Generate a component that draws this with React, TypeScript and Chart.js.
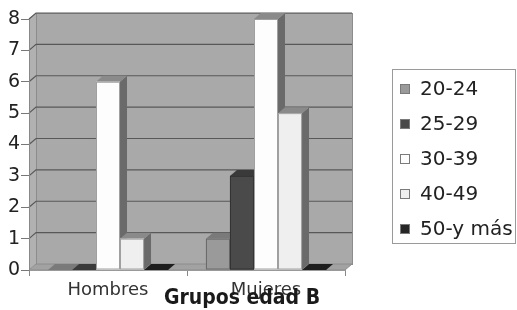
import { useEffect, useRef } from "react";
import { Chart, registerables } from "chart.js";

Chart.register(...registerables);

// ---- data ----
const categories = ["Hombres", "Mujeres"];
const seriesLabels = ["20-24", "25-29", "30-39", "40-49", "50-y más"];
const values2024 = [0, 1];
const values2529 = [0, 3];
const values3039 = [6, 8];
const values4049 = [1, 5];
const values50 = [0, 0];
const yMin = 0;
const yMax = 8;
const yStep = 1;
const titleText = "Grupos edad B";

// ---- styles ----
const frontColors = ["#9a9a9a", "#4a4a4a", "#fdfdfd", "#efefef", "#262626"];
const topColors = ["#7a7a7a", "#3a3a3a", "#8a8a8a", "#8a8a8a", "#1e1e1e"];
const sideColors = ["#6c6c6c", "#303030", "#6a6a6a", "#6a6a6a", "#181818"];
const edgeColors = ["#6a6a6a", "#333333", "#a0a0a0", "#a0a0a0", "#1a1a1a"];
const DX = 7;
const DY = -6;
const FONT = '"DejaVu Sans", sans-serif';

const wallPlugin = {
  id: "wall3d",
  beforeDraw(chart: any) {
    const { ctx, chartArea } = chart;
    const L = chartArea.left, R = chartArea.right, T = chartArea.top, B = chartArea.bottom;
    const ys = chart.scales.y;
    ctx.save();
    // back wall
    ctx.fillStyle = "#a9a9a9";
    ctx.fillRect(L + DX, T + DY, R - L, B - T);
    ctx.strokeStyle = "#8c8c8c";
    ctx.lineWidth = 1;
    ctx.strokeRect(L + DX + 0.5, T + DY + 0.5, R - L, B - T);
    // left side wall
    ctx.fillStyle = "#b1b1b1";
    ctx.beginPath();
    ctx.moveTo(L, T);
    ctx.lineTo(L + DX, T + DY);
    ctx.lineTo(L + DX, B + DY);
    ctx.lineTo(L, B);
    ctx.closePath();
    ctx.fill();
    // floor
    ctx.fillStyle = "#a2a2a2";
    ctx.beginPath();
    ctx.moveTo(L, B);
    ctx.lineTo(L + DX, B + DY);
    ctx.lineTo(R + DX, B + DY);
    ctx.lineTo(R, B);
    ctx.closePath();
    ctx.fill();
    ctx.strokeStyle = "#8c8c8c";
    ctx.stroke();
    // gridlines
    ctx.strokeStyle = "#585858";
    ctx.lineWidth = 1.2;
    for (let v = yMin + yStep; v <= yMax; v += yStep) {
      const y = ys.getPixelForValue(v);
      ctx.beginPath();
      ctx.moveTo(L, y);
      ctx.lineTo(L + DX, y + DY);
      ctx.lineTo(R + DX, y + DY);
      ctx.stroke();
    }
    ctx.restore();
  },
};

const barPlugin = {
  id: "bar3d",
  afterDatasetsDraw(chart: any) {
    const { ctx } = chart;
    ctx.save();
    chart.data.datasets.forEach((ds: any, di: number) => {
      const meta = chart.getDatasetMeta(di);
      meta.data.forEach((el: any) => {
        const { x, y, base, width } = el.getProps(["x", "y", "base", "width"], true);
        const l = x - width / 2;
        const r = x + width / 2;
        const top = Math.min(y, base);
        const bot = Math.max(y, base);
        // side face
        ctx.fillStyle = sideColors[di];
        ctx.beginPath();
        ctx.moveTo(r, top);
        ctx.lineTo(r + DX, top + DY);
        ctx.lineTo(r + DX, bot + DY);
        ctx.lineTo(r, bot);
        ctx.closePath();
        ctx.fill();
        // top face
        ctx.fillStyle = topColors[di];
        ctx.beginPath();
        ctx.moveTo(l, top);
        ctx.lineTo(l + DX, top + DY);
        ctx.lineTo(r + DX, top + DY);
        ctx.lineTo(r, top);
        ctx.closePath();
        ctx.fill();
        // front face
        if (bot - top > 0.5) {
          ctx.fillStyle = frontColors[di];
          ctx.fillRect(l, top, width, bot - top);
          ctx.strokeStyle = edgeColors[di];
          ctx.lineWidth = 1;
          ctx.strokeRect(l + 0.5, top + 0.5, width - 1, bot - top - 1);
        }
      });
    });
    ctx.restore();
  },
};

const legendTitlePlugin = {
  id: "legendTitle",
  afterDraw(chart: any) {
    const { ctx } = chart;
    ctx.save();
    // legend box
    ctx.strokeStyle = "#9a9a9a";
    ctx.lineWidth = 1;
    ctx.strokeRect(392.5, 69.5, 123, 174);
    ctx.font = `20px ${FONT}`;
    ctx.textBaseline = "middle";
    ctx.textAlign = "left";
    chart.data.datasets.forEach((ds: any, i: number) => {
      const cy = 89 + i * 35;
      ctx.fillStyle = frontColors[i];
      ctx.fillRect(400, cy - 5, 10, 10);
      ctx.strokeStyle = "#7a7a7a";
      ctx.strokeRect(400.5, cy - 4.5, 9, 9);
      ctx.fillStyle = "#222";
      ctx.fillText(ds.label, 420, cy + 1);
    });
    // title
    ctx.font = `bold 21px "DejaVu Sans Condensed", "DejaVu Sans", sans-serif`;
    try {
      (ctx as any).fontStretch = "condensed";
    } catch (e) {}
    ctx.textAlign = "center";
    ctx.textBaseline = "alphabetic";
    ctx.fillStyle = "#1a1a1a";
    ctx.fillText(titleText, 242, 304);
    ctx.restore();
  },
};

export default function App() {
  const ref = useRef<HTMLCanvasElement>(null);
  useEffect(() => {
    if (!ref.current) return;
    const seriesValues = [values2024, values2529, values3039, values4049, values50];
    const chart = new Chart(ref.current, {
      type: "bar",
      data: {
        labels: categories,
        datasets: seriesLabels.map((label, i) => ({
          label,
          data: seriesValues[i],
          backgroundColor: frontColors[i],
          borderWidth: 0,
          categoryPercentage: 0.76,
          barPercentage: 1,
        })),
      },
      options: {
        responsive: false,
        animation: false,
        devicePixelRatio: 1,
        layout: { padding: { top: 19, right: 172, bottom: 0, left: 0 } },
        plugins: {
          legend: { display: false },
          title: { display: false },
          tooltip: { enabled: false },
        },
        scales: {
          x: {
            grid: {
              offset: true,
              drawOnChartArea: false,
              drawTicks: true,
              tickLength: 6,
              color: "#888",
            },
            border: { display: true, color: "#999" },
            ticks: { color: "#333", font: { family: FONT, size: 18 }, padding: 4 },
            afterFit: (s: any) => {
              s.height = 40;
            },
          },
          y: {
            min: yMin,
            max: yMax,
            grid: { drawOnChartArea: false, drawTicks: true, tickLength: 8, color: "#777" },
            border: { display: true, color: "#888" },
            ticks: { stepSize: yStep, color: "#222", font: { family: FONT, size: 19 }, padding: 1 },
            afterFit: (s: any) => {
              s.width = 29;
            },
          },
        },
      },
      plugins: [wallPlugin, barPlugin, legendTitlePlugin],
    });
    return () => chart.destroy();
  }, []);
  return (
    <div style={{ position: "fixed", left: 0, top: 0, width: 517, height: 310, background: "#fff" }}>
      <canvas ref={ref} width={517} height={310} />
    </div>
  );
}
